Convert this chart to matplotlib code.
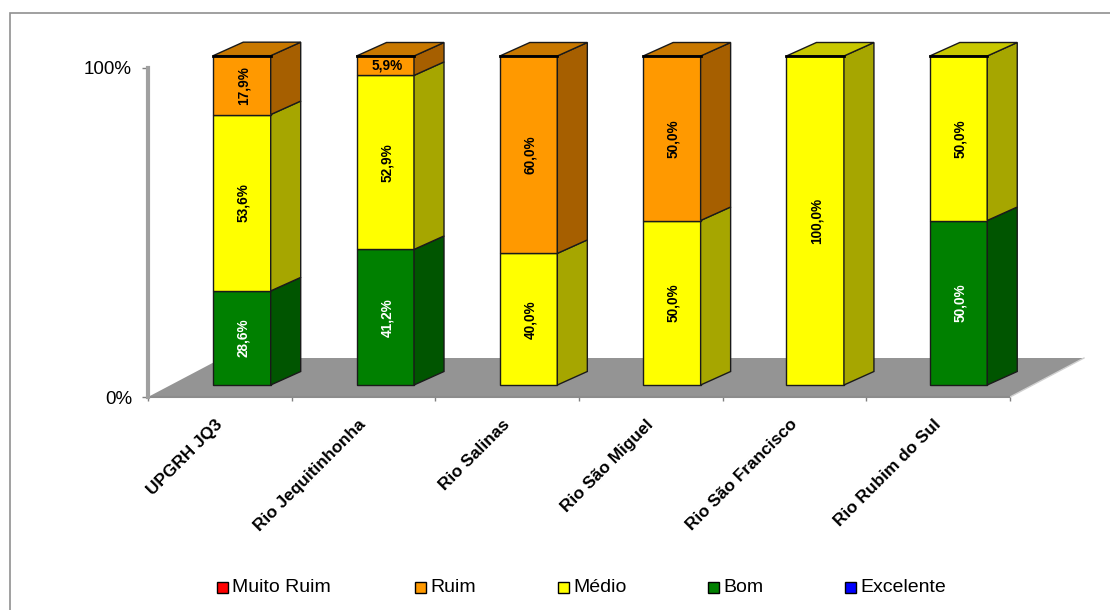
#!/usr/bin/env python3
# -*- coding: utf-8 -*-

import matplotlib
matplotlib.use('Agg')
import matplotlib.pyplot as plt
from matplotlib.patches import Rectangle

plt.rcParams['font.family'] = ['Liberation Sans', 'DejaVu Sans']

categories = ['UPGRH JQ3', 'Rio Jequitinhonha', 'Rio Salinas',
              'Rio São Miguel', 'Rio São Francisco', 'Rio Rubim do Sul']
legend_labels = ['Muito Ruim', 'Ruim', 'Médio', 'Bom', 'Excelente']

# stacked from the bottom up
bom = [28.6, 41.2, 0, 0, 0, 50.0]
medio = [53.6, 52.9, 40.0, 50.0, 100.0, 50.0]
ruim = [17.9, 5.9, 60.0, 50.0, 0, 0]

front = {'Bom': '#008000', 'Médio': '#ffff00', 'Ruim': '#ff9900',
         'Muito Ruim': '#ff0000', 'Excelente': '#0000ff'}
side = {'Bom': '#005500', 'Médio': '#a6a600', 'Ruim': '#a65f00'}
top = {'Bom': '#006600', 'Médio': '#c8c800', 'Ruim': '#c87800'}
txt_col = {'Bom': 'white', 'Médio': 'black', 'Ruim': 'black'}

W, H = 1110, 610
fig = plt.figure(figsize=(W / 100, H / 100), dpi=100)
ax = fig.add_axes([148 / W, 1 - 397 / H, (1010 - 148) / W, (397 - 68) / H])
ax.set_xlim(0, 6)
ax.set_ylim(0, 100)
ax.patch.set_visible(False)

# pixel -> data sizes for the fake 3D
ux = 143.67
uy = 3.29
bar_x = 0.654
bar_step = 0.9975
bar_w = 57.5 / ux
y0 = 12 / uy          # front of bars above the front floor edge
dx = 30 / ux          # bar depth
dy = 13.5 / uy
fdx = 74 / ux         # floor depth
fdy = 39 / uy

# floor
ax.fill([0, 6, 6 + fdx, fdx], [0, 0, fdy, fdy], color='#949494', lw=0, zorder=1, clip_on=False)
ax.plot([0, 6], [0, 0], color='#8c8c8c', lw=1.5, zorder=2, clip_on=False, solid_capstyle='butt')
ax.plot([6, 6 + fdx], [0, fdy], color='#d0d0d0', lw=1, zorder=1, clip_on=False)

edge = '#1a1a1a'
for i, cat in enumerate(categories):
    x = i * bar_step + bar_x
    bottom = y0
    for name, vals in [('Bom', bom), ('Médio', medio), ('Ruim', ruim)]:
        v = vals[i]
        if v == 0:
            continue
        ax.bar(x, v, bottom=bottom, width=bar_w, color=front[name], edgecolor=edge,
               linewidth=1, zorder=3 + i, clip_on=False)
        r = x + bar_w / 2
        ax.fill([r, r + dx, r + dx, r], [bottom, bottom + dy, bottom + v + dy, bottom + v],
                facecolor=side[name], edgecolor=edge, linewidth=1, zorder=3 + i, clip_on=False)
        label = f'{v:.1f}%'.replace('.', ',')
        rot = 0 if v < 8 else 90
        ax.text(x + 1.5 / ux, bottom + v / 2, label, rotation=rot, ha='center', va='center',
                fontsize=9.8, fontweight='bold', color=txt_col[name], zorder=10, clip_on=False)
        bottom += v
        last = name
    # top face
    l = x - bar_w / 2
    r = x + bar_w / 2
    ax.fill([l, r, r + dx, l + dx], [bottom, bottom, bottom + dy, bottom + dy],
            facecolor=top[last], edgecolor=edge, linewidth=1, zorder=3 + i, clip_on=False)
    ax.plot([l, r], [bottom, bottom], color='black', lw=2, zorder=3 + i, clip_on=False)

# axes
for s in ['top', 'right', 'bottom']:
    ax.spines[s].set_visible(False)
ax.spines['left'].set_color('#a0a0a0')
ax.spines['left'].set_linewidth(3)
ax.set_yticks([0, 100])
ax.set_yticklabels(['0%', '100%'], fontsize=13.5)
ax.tick_params(axis='y', length=4.5, width=1, color='#808080', pad=7)
ax.set_xticks(range(7))
ax.set_xticklabels([])
ax.tick_params(axis='x', length=3, width=1, color='#808080')

for i, cat in enumerate(categories):
    ax.annotate(cat, xy=(i + 0.50, 0), xytext=(0, -18), textcoords='offset points',
                rotation=45, rotation_mode='anchor', ha='right', va='center',
                fontsize=12.4, fontweight='bold', annotation_clip=False)

# legend
leg_x = [217, 415, 558, 708, 845]
for xp, name in zip(leg_x, legend_labels):
    fig.patches.append(Rectangle((xp / W, 1 - 593 / H), 11 / W, 11 / H, transform=fig.transFigure,
                                 facecolor=front[name], edgecolor='black', linewidth=1))
    fig.text((xp + 15) / W, 1 - 587 / H, name, fontsize=14, va='center', ha='left')

# frame
fig.patches.append(Rectangle((9.5 / W, -0.01), 1, 1 - 13 / H + 0.01, transform=fig.transFigure,
                             facecolor='none', edgecolor='#909090', linewidth=1.2))

fig.savefig('out.png', dpi=100)
